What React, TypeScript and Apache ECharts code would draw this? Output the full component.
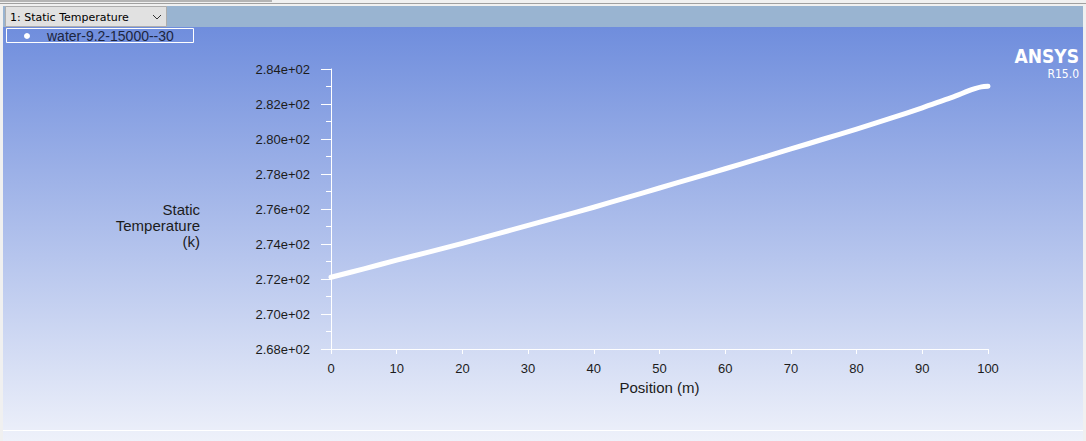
import React, { useEffect, useRef } from "react";
import * as echarts from "echarts";

const seriesName = "water-9.2-15000--30";
const positions = [0, 5, 10, 15, 20, 25, 30, 35, 40, 45, 50, 55, 60, 65, 70, 75, 80, 85, 90, 93, 95, 97, 98, 99, 100];
const temperatures = [
  272.1, 272.58, 273.08, 273.55, 274.04, 274.55, 275.06, 275.58, 276.1, 276.65, 277.2, 277.75, 278.3,
  278.86, 279.43, 280.0, 280.57, 281.16, 281.78, 282.18, 282.45, 282.75, 282.88, 282.98, 283.02,
];
const yMin = 268;
const yMax = 284;
const yStep = 2;
const xMin = 0;
const xMax = 100;
const xStep = 10;

export default function App() {
  const ref = useRef<HTMLDivElement>(null);
  useEffect(() => {
    if (!ref.current) return;
    const chart = echarts.init(ref.current, undefined, { renderer: "svg" });
    const font = "'Liberation Sans', Arial, sans-serif";
    chart.setOption({
      animation: false,
      backgroundColor: {
        type: "linear",
        x: 0, y: 0, x2: 0, y2: 1,
        colorStops: [
          { offset: 0, color: "#6787db" },
          { offset: 1, color: "#eef1fa" },
        ],
      },
      grid: { left: 331, right: 98, top: 69, bottom: 92, containLabel: false },
      legend: {
        show: true,
        left: 24,
        top: 27,
        icon: "circle",
        itemWidth: 6,
        itemHeight: 6,
        itemGap: 10,
        padding: [2, 0],
        textStyle: { color: "#1c2540", fontSize: 14, fontFamily: font, padding: [0, 0, 0, 12] },
        data: [{ name: seriesName, itemStyle: { color: "#ffffff" } }],
      },
      xAxis: {
        type: "value",
        min: xMin,
        max: xMax,
        interval: xStep,
        name: "Position (m)",
        nameLocation: "middle",
        nameGap: 31,
        nameTextStyle: { color: "#1c1c1c", fontSize: 15, fontFamily: font },
        axisLine: { show: true, lineStyle: { color: "#ffffff", width: 1 } },
        axisTick: { show: true, length: 5, lineStyle: { color: "#ffffff" } },
        axisLabel: { color: "#1c1c1c", fontSize: 13, fontFamily: font, margin: 13 },
        splitLine: { show: false },
      },
      yAxis: {
        type: "value",
        min: yMin,
        max: yMax,
        interval: yStep,
        axisLine: { show: true, lineStyle: { color: "#ffffff", width: 1 } },
        axisTick: { show: true, length: 10, lineStyle: { color: "#ffffff" } },
        minorTick: { show: true, splitNumber: 2, length: 5, lineStyle: { color: "#ffffff" } },
        axisLabel: {
          color: "#1c1c1c",
          fontSize: 13,
          fontFamily: font,
          margin: 21,
          formatter: (v: number) => (v / 100).toFixed(2) + "e+02",
        },
        splitLine: { show: false },
      },
      graphic: [
        { type: "rect", z: 10, shape: { x: 0, y: 0, width: 1086, height: 6 }, style: { fill: "#f0f0f0" } },
        { type: "rect", z: 11, shape: { x: 0, y: 0, width: 272, height: 2 }, style: { fill: "#b4b4b4" } },
        { type: "line", z: 11, shape: { x1: 0, y1: 3.5, x2: 1086, y2: 3.5 }, style: { stroke: "#a0a0a0", lineWidth: 1 } },
        { type: "rect", z: 10, shape: { x: 0, y: 6, width: 1086, height: 21 }, style: { fill: "#99b4d1" } },
        { type: "rect", z: 11, shape: { x: 5.5, y: 6.5, width: 161, height: 20 }, style: { fill: "#e1e1e1", stroke: "#adadad", lineWidth: 1 } },
        { type: "text", z: 12, style: { x: 10, y: 17, text: "1: Static Temperature", fill: "#000000", font: "11px 'DejaVu Sans', sans-serif", verticalAlign: "middle" } },
        { type: "polyline", z: 12, shape: { points: [[153, 15], [157, 19], [161, 15]] }, style: { stroke: "#333333", lineWidth: 1, fill: null } },
        { type: "rect", z: 11, shape: { x: 6.5, y: 28.5, width: 187, height: 14 }, style: { fill: null, stroke: "#ffffff", lineWidth: 1 } },
        { type: "rect", z: 10, shape: { x: 0, y: 6, width: 3, height: 435 }, style: { fill: "#f0f0f0" } },
        { type: "rect", z: 10, shape: { x: 1083, y: 6, width: 3, height: 435 }, style: { fill: "#f0f0f0" } },
        { type: "line", z: 11, shape: { x1: 3, y1: 430.5, x2: 1083, y2: 430.5 }, style: { stroke: "#ffffff", lineWidth: 1 } },
        {
          type: "text",
          z: 12,
          style: {
            x: 200,
            y: 225,
            text: "Static\nTemperature\n(k)",
            fill: "#1c1c1c",
            font: "15px 'Liberation Sans', Arial, sans-serif",
            lineHeight: 16,
            align: "right",
            verticalAlign: "middle",
          },
        },
        {
          type: "text",
          z: 12,
          style: { x: 1079, y: 56, text: "ANSYS", fill: "#ffffff", font: "bold 19px 'DejaVu Sans Condensed', 'DejaVu Sans', sans-serif", align: "right", verticalAlign: "middle" },
        },
        {
          type: "text",
          z: 12,
          style: { x: 1079, y: 74, text: "R15.0", fill: "#ffffff", font: "12px 'DejaVu Sans Condensed', 'DejaVu Sans', sans-serif", align: "right", verticalAlign: "middle" },
        },
      ],
      series: [
        {
          name: seriesName,
          type: "line",
          data: positions.map((p, i) => [p, temperatures[i]]),
          showSymbol: false,
          symbol: "circle",
          itemStyle: { color: "#ffffff" },
          lineStyle: { color: "#ffffff", width: 5, cap: "round", join: "round" },
          smooth: 0.3,
        },
      ],
    });
    return () => chart.dispose();
  }, []);
  return <div ref={ref} style={{ position: "fixed", left: 0, top: 0, width: 1086, height: 441 }} />;
}
